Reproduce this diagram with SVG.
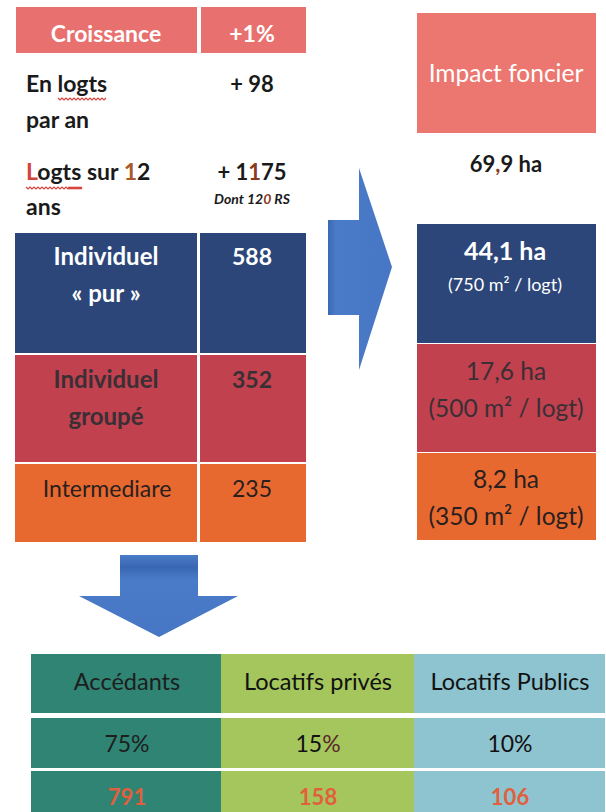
<svg xmlns="http://www.w3.org/2000/svg" width="606" height="812" viewBox="0 0 606 812">
<defs>
<style>
text{font-family:Lato,"Liberation Sans",sans-serif;}
.c{text-anchor:middle;}
.b{font-weight:bold;}
.w{fill:#ffffff;}
.k{fill:#1a1a1a;}
.d{fill:#3a2f35;}
.rn{fill:#e0603d;font-weight:bold;}
.sq{fill:none;stroke:#d9453e;stroke-width:1.2;}
</style>
<linearGradient id="gR" x1="0" y1="0" x2="1" y2="0">
<stop offset="0" stop-color="#3b68b4"/><stop offset="0.12" stop-color="#4a7bc8"/><stop offset="1" stop-color="#4676c4"/>
</linearGradient>
<linearGradient id="gD" x1="0" y1="0" x2="0" y2="1">
<stop offset="0" stop-color="#4a7bc8"/><stop offset="0.15" stop-color="#3a66b2"/><stop offset="0.3" stop-color="#4a7bc8"/><stop offset="1" stop-color="#4676c4"/>
</linearGradient>
</defs>
<rect width="606" height="812" fill="#ffffff"/>

<g id="left-table">
<g id="row-croissance">
<rect x="16" y="7" width="181" height="46" fill="#e8716f"/>
<rect x="201" y="7" width="105" height="46" fill="#e8716f"/>
<text x="106" y="42" class="c b w" font-size="23">Croissance</text>
<text x="252" y="42" class="c b w" font-size="23">+1%</text>
</g>
<g id="row-logts-an">
<text x="26" y="92" class="b k" font-size="23">En logts</text>
<text x="26" y="128" class="b k" font-size="23">par an</text>
<text x="252" y="92" class="c b k" font-size="22">+ 98</text>
<path class="sq" d="M58 98 l2 2 l2 -2 l2 2 l2 -2 l2 2 l2 -2 l2 2 l2 -2 l2 2 l2 -2 l2 2 l2 -2 l2 2 l2 -2 l2 2 l2 -2 l2 2 l2 -2 l2 2 l2 -2 l2 2 l2 -2 l2 2 l2 -2"/>
</g>
<g id="row-logts-12">
<text x="26" y="180" class="b k" font-size="23"><tspan fill="#d2443c">L</tspan>ogts sur <tspan fill="#a85a2e">1</tspan>2</text>
<text x="26" y="215" class="b k" font-size="23">ans</text>
<text x="252" y="180" class="c b k" font-size="22">+ 1<tspan fill="#8a3a1e">1</tspan>75</text>
<text x="252" y="204" class="c b k" font-size="14" font-style="italic">Dont 12<tspan fill="#8a3a1e">0</tspan> RS</text>
<path class="sq" d="M26 187 l2 2 l2 -2 l2 2 l2 -2 l2 2 l2 -2 l2 2 l2 -2 l2 2 l2 -2 l2 2 l2 -2 l2 2 l2 -2 l2 2 l2 -2 l2 2 l2 -2 l2 2 l2 -2 l2 2 l2 -2 l2 2 l2 -2 l2 2 l2 -2 l2 2 l2 -2"/>
<path class="sq" d="M68 187 l2 2 l2 -2 l2 2 l2 -2 l2 2 l2 -2 l2 2"/>
</g>
<g id="row-individuel-pur">
<rect x="15" y="233" width="182" height="120" fill="#2c4679"/>
<rect x="200" y="233" width="106" height="120" fill="#2c4679"/>
<text x="106" y="265" class="c b w" font-size="24">Individuel</text>
<text x="106" y="302" class="c b w" font-size="24">« pur »</text>
<text x="252" y="265" class="c b w" font-size="23">588</text>
</g>
<g id="row-individuel-groupe">
<rect x="15" y="355" width="182" height="107" fill="#c1414f"/>
<rect x="200" y="355" width="106" height="107" fill="#c1414f"/>
<text x="106" y="388" class="c b d" font-size="24">Individuel</text>
<text x="106" y="425" class="c b d" font-size="24">groupé</text>
<text x="252" y="388" class="c b d" font-size="23">352</text>
</g>
<g id="row-intermediare">
<rect x="15" y="464" width="182" height="78" fill="#e8692f"/>
<rect x="200" y="464" width="106" height="78" fill="#e8692f"/>
<text x="107" y="497" class="c" font-size="23" fill="#2a1f1f">Intermediare</text>
<text x="252" y="497" class="c" font-size="23" fill="#2a1f1f">235</text>
</g>
</g>

<g id="right-table">
<g id="impact-foncier">
<rect x="417" y="13" width="179" height="120" fill="#ec7670"/>
<text x="506" y="82" class="c w" font-size="24.5">Impact foncier</text>
</g>
<g id="total">
<text x="506" y="172" class="c b k" font-size="22">69<tspan fill="#8a3a1e">,</tspan>9 ha</text>
</g>
<g id="impact-pur">
<rect x="417" y="224" width="179" height="119" fill="#2c4679"/>
<text x="505" y="260" class="c b w" font-size="25">44,1  ha</text>
<text x="505" y="291" class="c w" font-size="18">(750 m² / logt)</text>
</g>
<g id="impact-groupe">
<rect x="417" y="344" width="179" height="108" fill="#c1414f"/>
<text x="506" y="380" class="c d" font-size="24.5">17,6 ha</text>
<text x="506" y="417" class="c d" font-size="24.5">(500 m² / logt)</text>
</g>
<g id="impact-intermediare">
<rect x="417" y="453" width="179" height="87" fill="#e8692f"/>
<text x="506" y="488" class="c" font-size="24.5" fill="#2a1f1f">8,2 ha</text>
<text x="506" y="525" class="c" font-size="24.5" fill="#2a1f1f">(350 m² / logt)</text>
</g>
</g>

<g id="connectors">
<polygon id="arrow-right" points="328,220 359,220 359,168 392,267 359,370 359,315 328,315" fill="url(#gR)"/>
<polygon id="arrow-down" points="120,555 198,555 198,596 238,596 159,637 79,596 120,596" fill="url(#gD)"/>
</g>

<g id="bottom-table">
<g id="col-accedants">
<rect x="31" y="654" width="190" height="59" fill="#2f8474"/>
<rect x="31" y="718" width="190" height="50" fill="#2f8474"/>
<rect x="31" y="771" width="190" height="41" fill="#2f8474"/>
<text x="127" y="690" class="c" font-size="23.5" fill="#1e1e1e">Accédants</text>
<text x="127" y="752" class="c" font-size="23" fill="#1e1e1e">75%</text>
<text x="127" y="805" class="c rn" font-size="22">791</text>
</g>
<g id="col-prives">
<rect x="221" y="654" width="193" height="59" fill="#a4c65c"/>
<rect x="221" y="718" width="193" height="50" fill="#a4c65c"/>
<rect x="221" y="771" width="193" height="41" fill="#a4c65c"/>
<text x="318" y="690" class="c" font-size="23.5" fill="#111111">Locatifs privés</text>
<text x="318" y="752" class="c" font-size="23" fill="#111111">15<tspan fill="#5a2a2a">%</tspan></text>
<text x="318" y="805" class="c rn" font-size="22">158</text>
</g>
<g id="col-publics">
<rect x="414" y="654" width="191" height="59" fill="#8ec3d0"/>
<rect x="414" y="718" width="191" height="50" fill="#8ec3d0"/>
<rect x="414" y="771" width="191" height="41" fill="#8ec3d0"/>
<text x="510" y="690" class="c" font-size="23.5" fill="#111111">Locatifs Publics</text>
<text x="510" y="752" class="c" font-size="23" fill="#111111">10%</text>
<text x="510" y="805" class="c rn" font-size="22">106</text>
</g>
</g>
</svg>
